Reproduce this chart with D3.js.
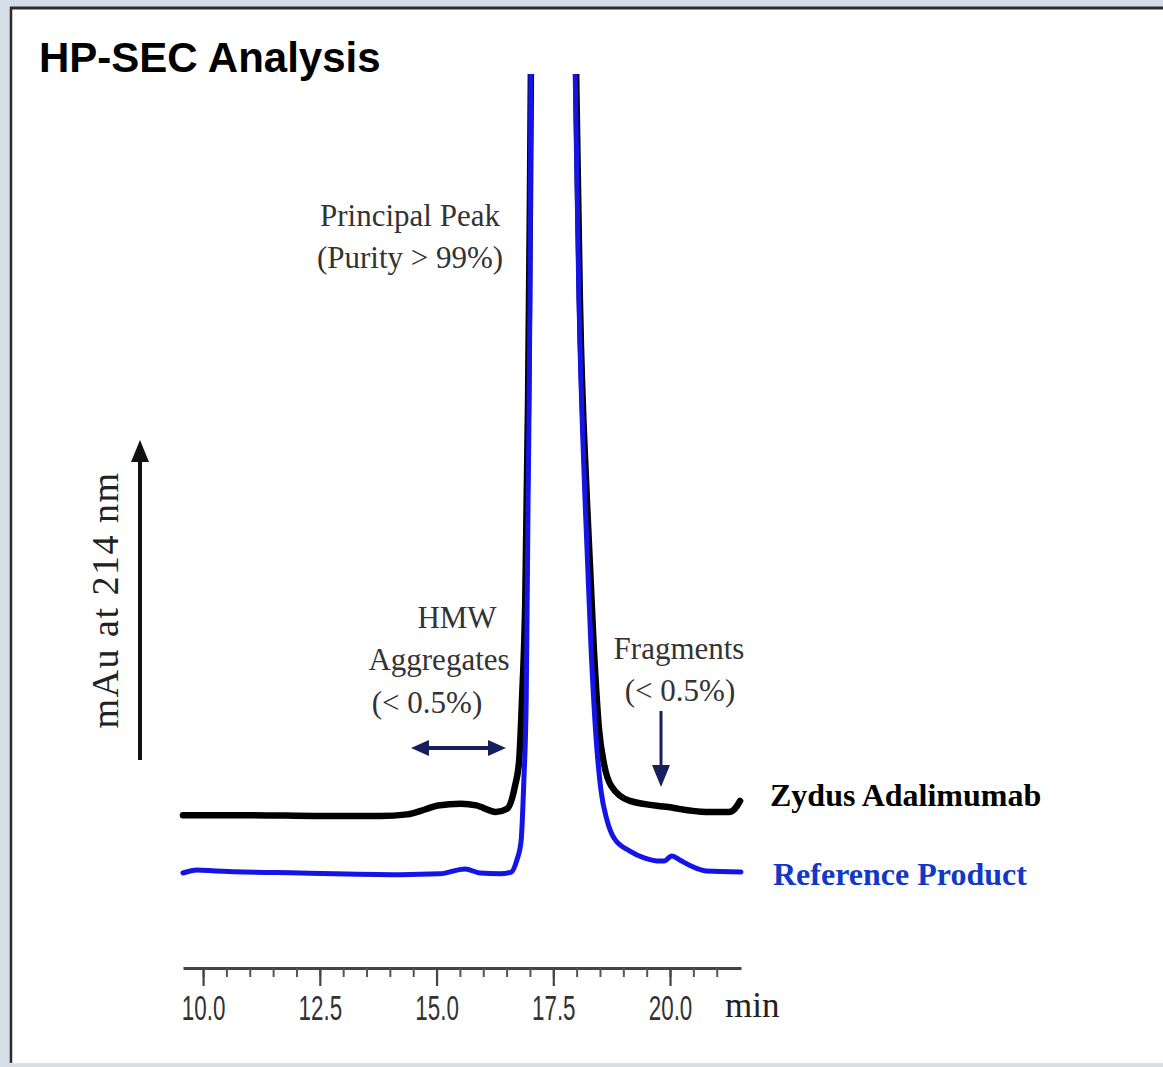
<!DOCTYPE html>
<html>
<head>
<meta charset="utf-8">
<script src="https://cdn.jsdelivr.net/npm/d3@7"></script>
<style>
  html, body { margin: 0; padding: 0; background: #d6dde6; }
  svg { display: block; }
</style>
</head>
<body>
<svg id="chart" width="1163" height="1067"></svg>
<script>
// Retention time (min) and detector signal (mAU) for each chromatogram
const zydusTime   = [9.57, 11.0, 12.5, 13.8, 14.37, 14.75, 15.03, 15.52, 15.85, 16.27, 16.51, 16.68, 16.77, 16.83, 16.90, 16.96, 17.00, 17.02, 17.5, 17.99, 18.07, 18.22, 18.37, 18.48, 18.59, 18.74, 19.14, 19.96, 20.77, 21.26, 21.39, 21.50];
const zydusSignal = [0.0, 0.0, -0.1, -0.1, 0.1, 0.7, 1.2, 1.4, 1.2, 0.4, 0.8, 3.6, 6.8, 14.2, 26.4, 51.0, 75.6, 91.0, 200, 91.0, 63.3, 38.7, 20.3, 10.5, 6.2, 3.6, 1.75, 1.0, 0.4, 0.4, 0.8, 1.75];

const refTime   = [9.57, 9.87, 10.26, 12.08, 14.22, 15.07, 15.61, 15.93, 16.36, 16.60, 16.72, 16.81, 16.87, 16.92, 16.96, 17.00, 17.02, 17.5, 17.97, 18.05, 18.18, 18.31, 18.42, 18.52, 18.65, 18.80, 19.14, 19.46, 19.79, 19.87, 20.04, 20.21, 20.45, 20.77, 21.52];
const refSignal = [0.0, 0.37, 0.25, 0.0, -0.2, -0.1, 0.5, 0.0, -0.1, 0.12, 1.6, 3.9, 11.4, 21.3, 45.8, 70.4, 98.0, 200, 98.0, 70.4, 45.8, 27.4, 16.3, 10.2, 6.5, 4.3, 2.7, 1.84, 1.47, 1.47, 2.1, 1.6, 0.86, 0.25, 0.12];

const seriesNames   = ["Zydus Adalimumab", "Reference Product"];
const seriesOffsets = [7.1, 0];      // vertical stacking of the two traces (mAU)
const seriesColors  = ["#000000", "#1414e6"];
const labelColors   = ["#000000", "#1238c8"];

const majorTicks = [10, 12.5, 15, 17.5, 20];
const tickLabels = ["10.0", "12.5", "15.0", "17.5", "20.0"];

const svg = d3.select("#chart");

// white panel with dark top/left rule
svg.append("rect").attr("x", 11).attr("y", 8).attr("width", 1160).attr("height", 1055).attr("fill", "#ffffff");
svg.append("line").attr("x1", 10).attr("x2", 1163).attr("y1", 8).attr("y2", 8).attr("stroke", "#2b2b2b").attr("stroke-width", 3);
svg.append("line").attr("x1", 11).attr("x2", 11).attr("y1", 7).attr("y2", 1063).attr("stroke", "#2b2b2b").attr("stroke-width", 2.5);
svg.append("line").attr("x1", 11).attr("x2", 1163).attr("y1", 1063.5).attr("y2", 1063.5).attr("stroke", "#e4e4e4").attr("stroke-width", 1.5);

svg.append("text")
  .attr("x", 39).attr("y", 72)
  .attr("font-family", "'Liberation Sans', Arial, sans-serif")
  .attr("font-weight", "bold").attr("font-size", 42)
  .attr("fill", "#000").text("HP-SEC Analysis");

const x = d3.scaleLinear().domain([9.57, 21.52]).range([183, 741]);
const y = d3.scaleLinear().domain([0, 100]).range([873, 59]);

svg.append("defs").append("clipPath").attr("id", "plotClip")
  .append("rect").attr("x", 150).attr("y", 74).attr("width", 650).attr("height", 900);

const traces = [
  { t: zydusTime, v: zydusSignal },
  { t: refTime,   v: refSignal }
];

const line = d3.line().curve(d3.curveMonotoneX);
const plot = svg.append("g").attr("clip-path", "url(#plotClip)");

traces.forEach((tr, i) => {
  const pts = tr.t.map((t, k) => [x(t), y(tr.v[k] + seriesOffsets[i])]);
  plot.append("path")
    .attr("d", line(pts))
    .attr("fill", "none")
    .attr("stroke", seriesColors[i])
    .attr("stroke-width", i === 0 ? 6.5 : 5)
    .attr("stroke-linejoin", "round")
    .attr("stroke-linecap", "round");
});

// trace names to the right of each baseline
const legendPos = [[770, 806], [773, 885]];
seriesNames.forEach((name, i) => {
  svg.append("text")
    .attr("x", legendPos[i][0]).attr("y", legendPos[i][1])
    .attr("font-family", "'Liberation Serif', 'Times New Roman', serif")
    .attr("font-weight", "bold").attr("font-size", 32)
    .attr("fill", labelColors[i]).text(name);
});

// time axis
const axisY = 968;
const minorAxis = d3.axisBottom(x)
  .tickValues(d3.range(10, 21.01, 0.5))
  .tickSize(9).tickSizeOuter(0).tickFormat("");
const majorAxis = d3.axisBottom(x)
  .tickValues(majorTicks)
  .tickSize(18).tickSizeOuter(0)
  .tickFormat((d, i) => tickLabels[i]);

const gMinor = svg.append("g").attr("transform", `translate(0,${axisY})`).call(minorAxis);
gMinor.select(".domain").attr("stroke", "#444").attr("stroke-width", 3);
gMinor.selectAll(".tick line").attr("stroke", "#555").attr("stroke-width", 2);

const gMajor = svg.append("g").attr("transform", `translate(0,${axisY})`).call(majorAxis);
gMajor.select(".domain").remove();
gMajor.selectAll(".tick line").attr("stroke", "#444").attr("stroke-width", 2.2);
gMajor.selectAll(".tick text")
  .attr("y", 27).attr("dy", "0.71em")
  .attr("transform", "scale(0.64,1)")
  .attr("font-family", "'Liberation Sans', Arial, sans-serif")
  .attr("font-size", 35).attr("fill", "#333");

svg.append("text")
  .attr("x", 725).attr("y", 1017)
  .attr("font-family", "'Liberation Serif', 'Times New Roman', serif")
  .attr("font-size", 35).attr("fill", "#222").text("min");

// signal direction arrow and label
const arrowColor = "#111";
svg.append("line").attr("x1", 140).attr("x2", 140).attr("y1", 760).attr("y2", 458)
  .attr("stroke", arrowColor).attr("stroke-width", 4);
svg.append("path").attr("d", "M140,440 L131,462 L149,462 Z").attr("fill", arrowColor);
svg.append("text")
  .attr("transform", "translate(118,600) rotate(-90)")
  .attr("text-anchor", "middle")
  .attr("font-family", "'Liberation Serif', 'Times New Roman', serif")
  .attr("font-size", 38).attr("letter-spacing", 1.5)
  .attr("fill", "#222").text("mAu at 214 nm");

// peak annotations
const serif = "'Liberation Serif', 'Times New Roman', serif";
function label(txt, px, py, anchor) {
  svg.append("text").attr("x", px).attr("y", py)
    .attr("text-anchor", anchor || "middle")
    .attr("font-family", serif).attr("font-size", 31)
    .attr("fill", "#333").text(txt);
}
label("Principal Peak", 410, 226);
label("(Purity > 99%)", 410, 268);
label("HMW", 457, 628);
label("Aggregates", 439, 670);
label("(< 0.5%)", 427, 713);
label("Fragments", 679, 659);
label("(< 0.5%)", 680, 701);

const navy = "#16205e";
svg.append("line").attr("x1", 425).attr("x2", 492).attr("y1", 748).attr("y2", 748)
  .attr("stroke", navy).attr("stroke-width", 4);
svg.append("path").attr("d", "M411,748 L429,740 L429,756 Z").attr("fill", navy);
svg.append("path").attr("d", "M506,748 L488,740 L488,756 Z").attr("fill", navy);

svg.append("line").attr("x1", 661).attr("x2", 661).attr("y1", 711).attr("y2", 770)
  .attr("stroke", navy).attr("stroke-width", 3);
svg.append("path").attr("d", "M661,787 L652,765 L670,765 Z").attr("fill", navy);
</script>
</body>
</html>
